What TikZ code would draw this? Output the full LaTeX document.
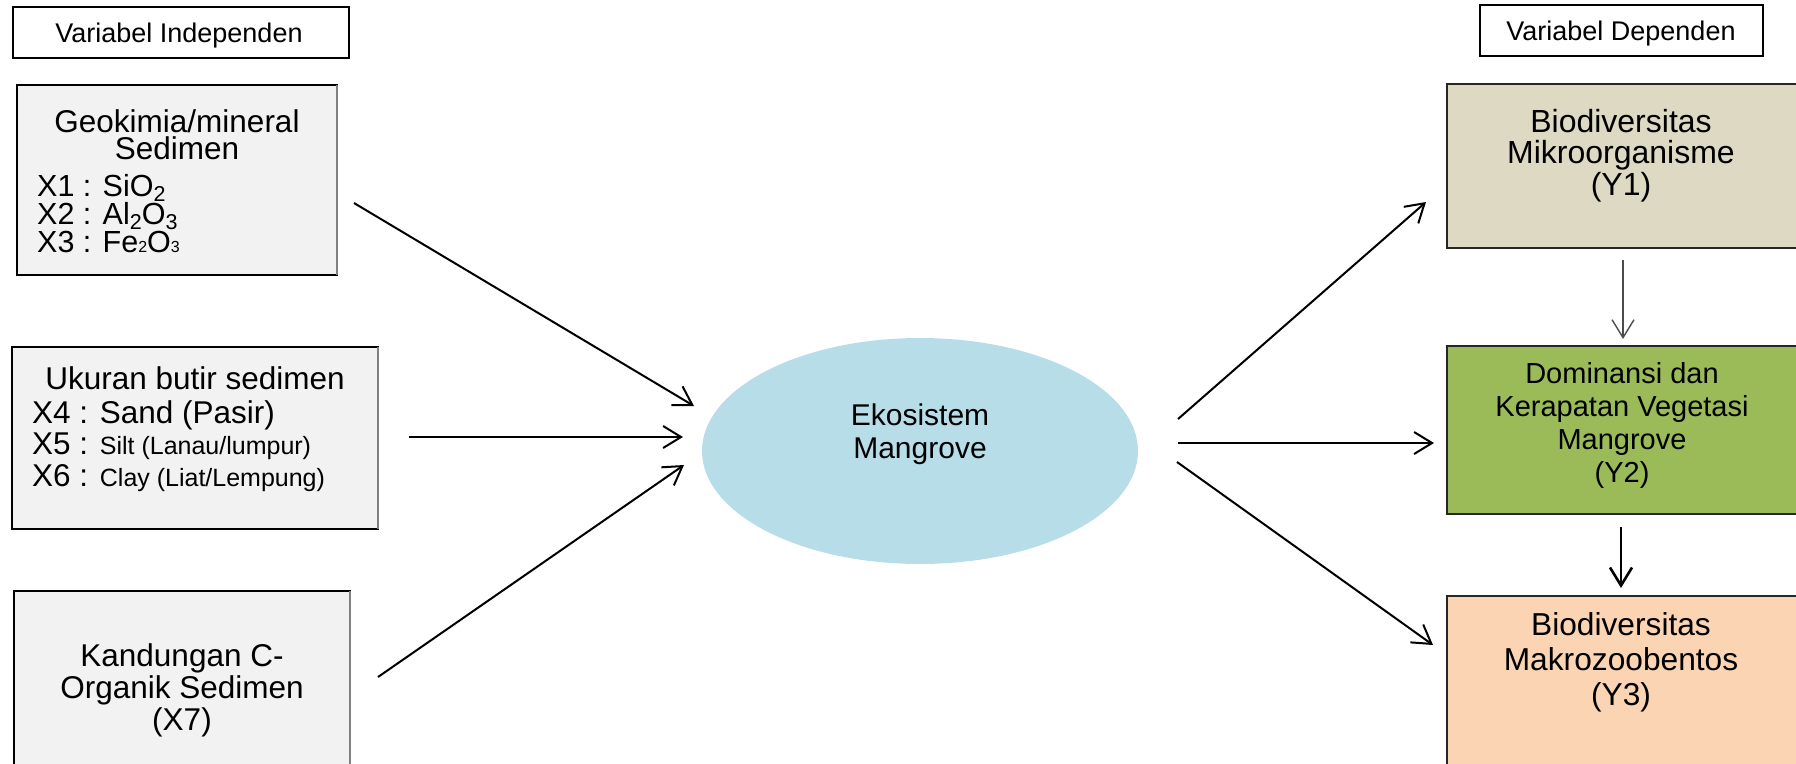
\documentclass[tikz,border=0pt]{standalone}
\usepackage{fontspec}
\setmainfont{Liberation Sans}
\usetikzlibrary{arrows.meta,shapes.geometric}
\definecolor{boxgray}{HTML}{F2F2F2}
\definecolor{yone}{HTML}{DDD9C3}
\definecolor{ytwo}{HTML}{9BBB59}
\definecolor{ythree}{HTML}{FBD4B4}
\definecolor{ellfill}{HTML}{B7DEE8}
\newcommand{\fsz}[2]{\fontsize{#1}{#2}\selectfont}
\newcommand{\sbig}[1]{\raisebox{-5pt}{\fontsize{21.5}{21.5}\selectfont #1}}
\newcommand{\ssmall}[1]{\raisebox{-0.5pt}{\fontsize{16}{16}\selectfont #1}}
\begin{document}
\begin{tikzpicture}[x=1pt,y=-1pt,
  hdrbox/.style={draw=black,line width=2pt,fill=white,inner sep=0pt,outer sep=0pt},
  xbox/.style={draw=black,line width=1.2pt,fill=boxgray,inner sep=0pt,outer sep=0pt},
  ybox/.style={draw=black!85,line width=2pt,inner sep=0pt,outer sep=0pt},
  txt/.style={anchor=base,align=center,inner sep=0pt},
  ltxt/.style={anchor=base west,align=left,inner sep=0pt},
  arr/.style={line width=2pt,-{Straight Barb[length=18pt,width=22pt]}},
  shadowedge/.style={draw=black!50,line width=2pt}
]
\useasboundingbox (0,0) rectangle (1796,763);
\clip (0,0) rectangle (1796,763);

% header boxes
\node[hdrbox,minimum width=336,minimum height=51] (indep) at (181,32.5) {};
\node[txt,font=\fsz{27}{30}] (indepT) at (179,42) {Variabel Independen};
\node[hdrbox,minimum width=283,minimum height=51] (dep) at (1621.5,30.5) {};
\node[txt,font=\fsz{27}{30}] (depT) at (1621,40) {Variabel Dependen};

% independent variable boxes (text nodes anchored at the baseline of their last line)
\node[xbox,minimum width=320,minimum height=190] (geo) at (177,180) {};
\draw[shadowedge] (geo.north east) -- (geo.south east);
\node[txt,font=\fsz{31.5}{27}] (geoT) at (177,159) {Geokimia/mineral\\Sedimen};
\node[ltxt,font=\fsz{30.5}{28}] (geoL) at (37,252) {X1 : SiO\sbig{2}\\X2 : Al\sbig{2}O\sbig{3}\\X3 : Fe\ssmall{2}O\ssmall{3}};

\node[xbox,minimum width=366,minimum height=182] (uk) at (195,438) {};
\draw[shadowedge] (uk.north east) -- (uk.south east);
\node[txt,font=\fsz{31.5}{32}] (ukT) at (195,389) {Ukuran butir sedimen};
\node[ltxt,font=\fsz{31.5}{31.5}] (ukL) at (32,486) {X4 : Sand (Pasir)\\X5 : {\fsz{25}{25}Silt (Lanau/lumpur)}\\X6 : {\fsz{25}{25}Clay (Liat/Lempung)}};

\node[xbox,minimum width=336,minimum height=209] (kan) at (182,695.5) {};
\draw[shadowedge] (kan.north east) -- (kan.south east);
\node[txt,font=\fsz{31.5}{32}] (kanT) at (182,730) {Kandungan C-\\Organik Sedimen\\(X7)};

% central ellipse
\node[ellipse,fill=ellfill,minimum width=436,minimum height=226,inner sep=0pt] (eco) at (920,451) {};
\node[txt,font=\fsz{30}{33}] (ecoT) at (920,458) {Ekosistem\\Mangrove};

% dependent variable boxes
\node[ybox,fill=yone,minimum width=353,minimum height=164] (y1) at (1623.5,166) {};
\node[txt,font=\fsz{32}{31.5}] (y1T) at (1621,195) {Biodiversitas\\Mikroorganisme\\(Y1)};
\node[ybox,fill=ytwo,minimum width=353,minimum height=168] (y2) at (1623.5,430) {};
\node[txt,font=\fsz{29}{33}] (y2T) at (1622,482) {Dominansi dan\\Kerapatan Vegetasi\\Mangrove\\(Y2)};
\node[ybox,fill=ythree,minimum width=353,minimum height=204] (y3) at (1623.5,698) {};
\node[txt,font=\fsz{31.7}{35}] (y3T) at (1621,705) {Biodiversitas\\Makrozoobentos\\(Y3)};

% arrow end points
\coordinate (a1s) at (354,203);  \coordinate (a1e) at (694,406);
\coordinate (a2s) at (409,437);  \coordinate (a2e) at (683,437);
\coordinate (a3s) at (378,677);  \coordinate (a3e) at (684,465);
\coordinate (b1s) at (1178,419); \coordinate (b1e) at (1426,202);
\coordinate (b2s) at (1178,443); \coordinate (b2e) at (1434,443);
\coordinate (b3s) at (1177,462); \coordinate (b3e) at (1433,645);
\coordinate (c1s) at (1623,260); \coordinate (c1e) at (1623,339);
\coordinate (c2s) at (1621,527); \coordinate (c2e) at (1621,588);

\draw[arr] (a1s) -- (a1e);
\draw[arr] (a2s) -- (a2e);
\draw[arr] (a3s) -- (a3e);
\draw[arr] (b1s) -- (b1e);
\draw[arr] (b2s) -- (b2e);
\draw[arr] (b3s) -- (b3e);
\draw[draw=black!70,line width=1.4pt,-{Straight Barb[length=18pt,width=22pt]}] (c1s) -- (c1e);
\draw[line width=2.6pt,-{Straight Barb[length=18pt,width=22pt]}] (c2s) -- (c2e);
\end{tikzpicture}
\end{document}
